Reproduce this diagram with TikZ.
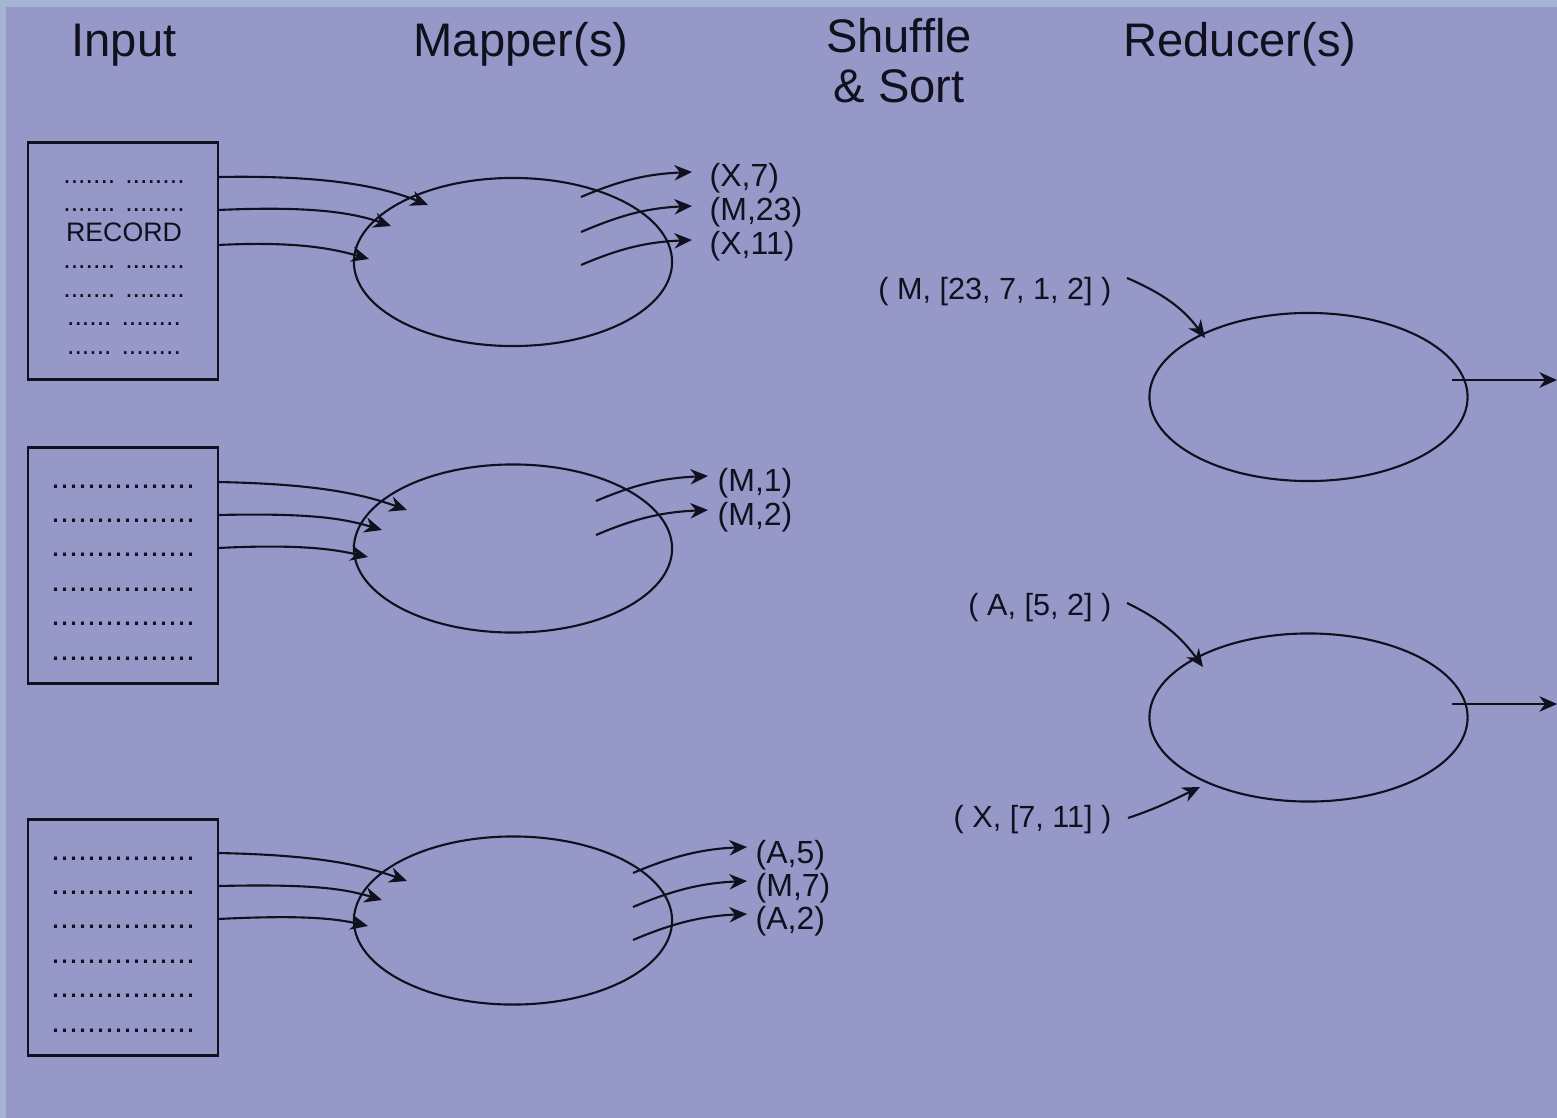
\documentclass[tikz,border=0pt]{standalone}
\usepackage{fontspec}
\setmainfont{Liberation Sans}
\usetikzlibrary{arrows.meta,shapes.geometric}
\definecolor{bgmain}{HTML}{9698C8}
\definecolor{bgframe}{HTML}{A6B4D4}
\definecolor{ink}{HTML}{10101E}
\begin{document}
\begin{tikzpicture}[x=0.01cm,y=-0.01cm,
  title/.style={font=\fontsize{13.4pt}{16pt}\selectfont, text=ink, anchor=base, inner sep=0},
  lbl/.style={font=\fontsize{9.1pt}{11pt}\selectfont, text=ink, anchor=west, inner sep=0},
  rlbl/.style={font=\fontsize{8.7pt}{11pt}\selectfont, text=ink, anchor=east, inner sep=0},
  inbox/.style={draw=ink, line width=0.8pt, minimum width=1.9cm, minimum height=2.365cm, inner sep=0},
  proc/.style={ellipse, draw=ink, line width=0.6pt, minimum width=3.18cm, minimum height=1.68cm, inner sep=0},
  arr/.style={draw=ink, line width=0.6pt, -{Stealth[length=5pt,width=4.4pt,inset=1.6pt]}},
  bdots/.style={font=\fontsize{9.2pt}{11pt}\selectfont, text=ink, inner sep=0},
  sdots/.style={font=\fontsize{7.6pt}{9pt}\selectfont, text=ink, inner sep=0}]
\useasboundingbox (0,0) rectangle (1557,1118);
\fill[bgframe] (0,0) rectangle (1557,1118);
\fill[bgmain] (6,7) rectangle (1557,1118);

% titles
\node[title] (tin) at (124,56) {Input};
\node[title] (tmap) at (521,57) {Mapper(s)};
\node[title] (tsh1) at (899,52) {Shuffle};
\node[title] (tsh2) at (899,103) {\& Sort};
\node[title] (tred) at (1240,57) {Reducer(s)};

% input boxes
\node[inbox] (in1) at (123,261) {};
\node[inbox] (in2) at (123,565.5) {};
\node[inbox] (in3) at (123,937.5) {};

% box 1 contents
\node[sdots] (d11) at (124,182) {....... ........};
\node[sdots] (d12) at (124,210) {....... ........};
\node[sdots] (rec) at (124,232) {RECORD};
\node[sdots] (d13) at (124,267) {....... ........};
\node[sdots] (d14) at (124,296) {....... ........};
\node[sdots] (d15) at (124,324) {...... ........};
\node[sdots] (d16) at (124,353) {...... ........};

% box 2 contents
\foreach \yy [count=\i] in {487,521,555,590,624,659}{
  \node[bdots] (d2\i) at (123,\yy) {................};
}
% box 3 contents
\foreach \yy [count=\i] in {859,893,927,962,996,1031}{
  \node[bdots] (d3\i) at (123,\yy) {................};
}

% mappers and reducers
\node[proc] (m1) at (513,262) {};
\node[proc] (m2) at (513,548.5) {};
\node[proc] (m3) at (513,920.5) {};
\node[proc] (r1) at (1308.5,397) {};
\node[proc] (r2) at (1308.5,717.5) {};

% input -> mapper connectors
\coordinate (a11s) at (218,177); \coordinate (a11e) at (428,205);
\coordinate (a12s) at (218,210); \coordinate (a12e) at (391,226);
\coordinate (a13s) at (218,245); \coordinate (a13e) at (369,259);
\draw[arr] (a11s) .. controls +(110,-2) and +(-45,-18) .. (a11e);
\draw[arr] (a12s) .. controls +(90,-4) and +(-40,-14) .. (a12e);
\draw[arr] (a13s) .. controls +(80,-4) and +(-35,-10) .. (a13e);

\coordinate (a21s) at (218,482); \coordinate (a21e) at (407,510);
\coordinate (a22s) at (218,515); \coordinate (a22e) at (382,530);
\coordinate (a23s) at (218,548); \coordinate (a23e) at (368,557);
\draw[arr] (a21s) .. controls +(100,2) and +(-45,-16) .. (a21e);
\draw[arr] (a22s) .. controls +(90,-2) and +(-40,-12) .. (a22e);
\draw[arr] (a23s) .. controls +(80,-4) and +(-35,-8) .. (a23e);

\coordinate (a31s) at (218,853); \coordinate (a31e) at (407,881);
\coordinate (a32s) at (218,886); \coordinate (a32e) at (382,900);
\coordinate (a33s) at (218,919); \coordinate (a33e) at (368,926);
\draw[arr] (a31s) .. controls +(100,2) and +(-45,-16) .. (a31e);
\draw[arr] (a32s) .. controls +(90,-2) and +(-40,-12) .. (a32e);
\draw[arr] (a33s) .. controls +(80,-4) and +(-35,-8) .. (a33e);

% mapper outputs
\coordinate (o11s) at (581,197); \coordinate (o11e) at (692,172);
\coordinate (o12s) at (581,232); \coordinate (o12e) at (692,206);
\coordinate (o13s) at (581,265); \coordinate (o13e) at (692,240);
\draw[arr] (o11s) .. controls +(40,-17) and +(-45,2) .. (o11e);
\draw[arr] (o12s) .. controls +(40,-17) and +(-45,2) .. (o12e);
\draw[arr] (o13s) .. controls +(40,-17) and +(-45,2) .. (o13e);
\node[lbl] (l11) at (709,178) {(X,7)};
\node[lbl] (l12) at (709,212) {(M,23)};
\node[lbl] (l13) at (709,246) {(X,11)};

\coordinate (o21s) at (596,501); \coordinate (o21e) at (708,476);
\coordinate (o22s) at (596,535); \coordinate (o22e) at (708,510);
\draw[arr] (o21s) .. controls +(40,-17) and +(-45,2) .. (o21e);
\draw[arr] (o22s) .. controls +(40,-17) and +(-45,2) .. (o22e);
\node[lbl] (l21) at (717,483) {(M,1)};
\node[lbl] (l22) at (717,517) {(M,2)};

\coordinate (o31s) at (633,873); \coordinate (o31e) at (747,847);
\coordinate (o32s) at (633,907); \coordinate (o32e) at (747,881);
\coordinate (o33s) at (633,940); \coordinate (o33e) at (747,914);
\draw[arr] (o31s) .. controls +(40,-17) and +(-45,2) .. (o31e);
\draw[arr] (o32s) .. controls +(40,-17) and +(-45,2) .. (o32e);
\draw[arr] (o33s) .. controls +(40,-17) and +(-45,2) .. (o33e);
\node[lbl] (l31) at (755,855) {(A,5)};
\node[lbl] (l32) at (755,888) {(M,7)};
\node[lbl] (l33) at (755,921) {(A,2)};

% reducer inputs
\node[rlbl] (k1) at (1112,292) {( M, [23, 7, 1, 2] )};
\node[rlbl] (k2) at (1112,608) {( A, [5, 2] )};
\node[rlbl] (k3) at (1112,820) {( X, [7, 11] )};
\coordinate (i1s) at (1127,278); \coordinate (i1e) at (1205,338);
\coordinate (i2s) at (1127,603); \coordinate (i2e) at (1203,667);
\coordinate (i3s) at (1128,818); \coordinate (i3e) at (1200,787);
\draw[arr] (i1s) .. controls +(35,15) and +(-22,-30) .. (i1e);
\draw[arr] (i2s) .. controls +(35,17) and +(-22,-30) .. (i2e);
\draw[arr] (i3s) .. controls +(30,-10) and +(-25,12) .. (i3e);

% reducer outputs
\coordinate (q1s) at (1452,380); \coordinate (q1e) at (1557,380);
\coordinate (q2s) at (1452,704); \coordinate (q2e) at (1557,704);
\draw[arr] (q1s) -- (q1e);
\draw[arr] (q2s) -- (q2e);
\end{tikzpicture}
\end{document}
